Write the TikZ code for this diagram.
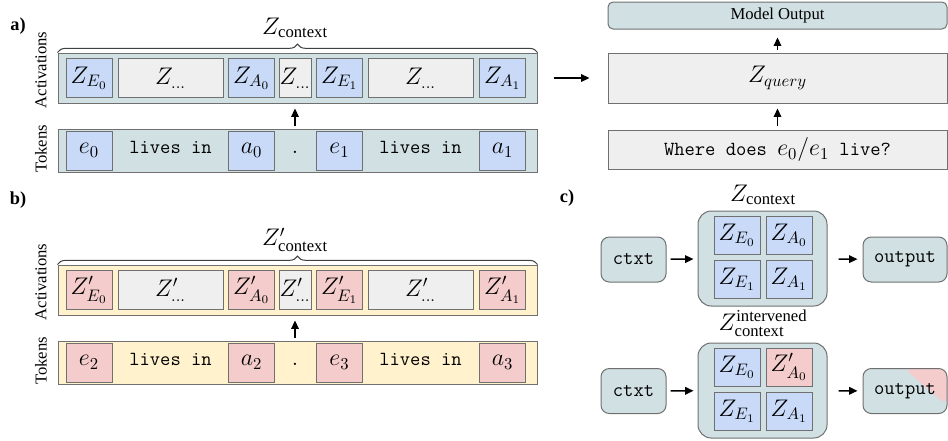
\documentclass[tikz,border=0pt]{standalone}
\usepackage{fontspec}
\setmainfont{Liberation Serif}
\usepackage{amsmath}
\usepackage{tikz}
\usetikzlibrary{positioning}
\usetikzlibrary{arrows.meta}
\usetikzlibrary{decorations.pathreplacing}
\usepackage{xcolor}

\definecolor{ctxcyan}{HTML}{D0E0E3}
\definecolor{ctxblue}{HTML}{C9DAF8}
\definecolor{ctxred}{HTML}{F4CCCC}
\definecolor{ctxyellow}{HTML}{FFF2CC}
\definecolor{ctxgray}{HTML}{EFEFEF}
\definecolor{ctxline}{HTML}{707070}

\newdimen\pxu
\pxu=0.6pt

\tikzset{
	sz/.style 2 args={minimum width=#1*\pxu, minimum height=#2*\pxu},
	ctxbar/.style={draw=ctxline, line width=0.6pt, inner sep=0pt},
	cellbox/.style={draw=ctxline, line width=0.6pt, inner sep=0pt, sz={46}{39}, font=\fontsize{14.4}{17}\selectfont},
	toktext/.style={inner sep=0pt, text height=5pt, text depth=2pt, font=\fontsize{12}{14}\selectfont\ttfamily},
	rndbox/.style={draw=ctxline, line width=0.6pt, fill=ctxcyan, rounded corners=5pt, inner sep=0pt, font=\fontsize{12}{14}\selectfont\ttfamily},
	grpbox/.style={draw=ctxline, line width=0.6pt, fill=ctxcyan, rounded corners=8pt, inner sep=0pt, sz={129}{95}},
	mathlbl/.style={inner sep=0pt, font=\fontsize{14.4}{17}\selectfont},
	arr/.style={-{Triangle[length=5pt,width=4.5pt]}, line width=0.9pt},
	brc/.style={decorate, decoration={brace, amplitude=5pt}, draw=black!75, line width=0.6pt}
}

\begin{document}
\begin{tikzpicture}[x=0.6pt, y=-0.6pt]
	\useasboundingbox (0,0) rectangle (948,440);

	% a)
	\node[font=\fontsize{11}{13}\selectfont\bfseries] (la) at (18,26) {a)};
	\node[ctxbar, fill=ctxcyan, sz={479}{50}] (aact) at (297.5,78) {};
	\node[ctxbar, fill=ctxcyan, sz={479}{43}] (atok) at (297.5,150.5) {};
	\node[rotate=90] (aactlbl) at (41,70) {Activations};
	\node[rotate=90] (atoklbl) at (41,149) {Tokens};
	\draw[brc] (aact.north west) -- (aact.north east);
	\node[mathlbl] (actx) at (295,28) {$Z_{\text{context}}$};

	\node[cellbox, fill=ctxblue] (aze0) at (89,78) {$Z_{E_0}$};
	\node[cellbox, fill=ctxgray, sz={105}{39}] (azd0) at (170.5,78) {$Z_{\dots}$};
	\node[cellbox, fill=ctxblue] (aza0) at (251.5,78) {$Z_{A_0}$};
	\node[cellbox, fill=ctxgray, sz={32}{39}] (azd1) at (295,78) {$Z_{\dots}$};
	\node[cellbox, fill=ctxblue] (aze1) at (339.5,78) {$Z_{E_1}$};
	\node[cellbox, fill=ctxgray, sz={105}{39}] (azd2) at (420.5,78) {$Z_{\dots}$};
	\node[cellbox, fill=ctxblue] (aza1) at (502.5,78) {$Z_{A_1}$};

	\node[cellbox, fill=ctxblue] (ate0) at (89,150.5) {$e_0$};
	\node[toktext] (atl0) at (170.5,150.5) {lives in};
	\node[cellbox, fill=ctxblue] (ata0) at (251.5,150.5) {$a_0$};
	\node[toktext] (atdot) at (295,150.5) {.};
	\node[cellbox, fill=ctxblue] (ate1) at (339.5,150.5) {$e_1$};
	\node[toktext] (atl1) at (420.5,150.5) {lives in};
	\node[cellbox, fill=ctxblue] (ata1) at (502.5,150.5) {$a_1$};
	\draw[arr, shorten <=1.8pt, shorten >=3pt] (atdot |- atok.north) -- (atdot |- aact.south);

	\node[ctxbar, fill=ctxgray, sz={339}{50}, font=\fontsize{14.4}{17}\selectfont] (zq) at (777.5,78) {$Z_{query}$};
	\node[ctxbar, fill=ctxcyan, rounded corners=3pt, sz={339}{27}] (mout) at (777.5,15.5) {Model Output};
	\node[ctxbar, fill=ctxgray, sz={339}{39}, font=\fontsize{12}{14}\selectfont\ttfamily] (qry) at (777.5,149.5) {Where does {\fontsize{14.4}{17}\selectfont$e_0/e_1$} live?};
	\draw[arr, shorten <=9.6pt, shorten >=10.8pt] (aact) -- (zq);
	\draw[arr, shorten <=2.4pt, shorten >=3pt] (qry) -- (zq);
	\draw[arr, shorten <=1.8pt, shorten >=4.8pt] (zq) -- (mout);

	% b)
	\node[font=\fontsize{11}{13}\selectfont\bfseries] (lb) at (18,200) {b)};
	\node[ctxbar, fill=ctxyellow, sz={479}{50}] (bact) at (297.5,290) {};
	\node[ctxbar, fill=ctxyellow, sz={479}{43}] (btok) at (297.5,362.5) {};
	\node[rotate=90] (bactlbl) at (41,282) {Activations};
	\node[rotate=90] (btoklbl) at (41,361) {Tokens};
	\draw[brc] (bact.north west) -- (bact.north east);
	\node[mathlbl] (bctx) at (295,240) {$Z'_{\text{context}}$};

	\node[cellbox, fill=ctxred] (bze0) at (89,290) {$Z'_{E_0}$};
	\node[cellbox, fill=ctxgray, sz={105}{39}] (bzd0) at (170.5,290) {$Z'_{\dots}$};
	\node[cellbox, fill=ctxred] (bza0) at (251.5,290) {$Z'_{A_0}$};
	\node[cellbox, fill=ctxgray, sz={32}{39}] (bzd1) at (295,290) {$Z'_{\dots}$};
	\node[cellbox, fill=ctxred] (bze1) at (339.5,290) {$Z'_{E_1}$};
	\node[cellbox, fill=ctxgray, sz={105}{39}] (bzd2) at (420.5,290) {$Z'_{\dots}$};
	\node[cellbox, fill=ctxred] (bza1) at (502.5,290) {$Z'_{A_1}$};

	\node[cellbox, fill=ctxred] (bte2) at (89,362.5) {$e_2$};
	\node[toktext] (btl0) at (170.5,362.5) {lives in};
	\node[cellbox, fill=ctxred] (bta2) at (251.5,362.5) {$a_2$};
	\node[toktext] (btdot) at (295,362.5) {.};
	\node[cellbox, fill=ctxred] (bte3) at (339.5,362.5) {$e_3$};
	\node[toktext] (btl1) at (420.5,362.5) {lives in};
	\node[cellbox, fill=ctxred] (bta3) at (502.5,362.5) {$a_3$};
	\draw[arr, shorten <=1.8pt, shorten >=3pt] (btdot |- btok.north) -- (btdot |- bact.south);

	% c)
	\node[font=\fontsize{11}{13}\selectfont\bfseries] (lc) at (567,198) {c)};
	\node[grpbox] (cgrp) at (762.5,258.5) {};
	\node[mathlbl] (cctx) at (763,195) {$Z_{\text{context}}$};
	\node[cellbox, fill=ctxblue, sz={46}{38}] (cze0) at (737,235) {$Z_{E_0}$};
	\node[cellbox, fill=ctxblue, sz={46}{38}] (cza0) at (789,235) {$Z_{A_0}$};
	\node[cellbox, fill=ctxblue, sz={46}{38}] (cze1) at (737,279) {$Z_{E_1}$};
	\node[cellbox, fill=ctxblue, sz={46}{38}] (cza1) at (789,279) {$Z_{A_1}$};
	\node[rndbox, sz={65}{45}] (cin) at (633.5,259.5) {ctxt};
	\node[rndbox, sz={84}{45}] (cout) at (905,259.5) {output};
	\draw[arr, shorten <=2.4pt, shorten >=2.4pt] (cin) -- (cgrp);
	\draw[arr, shorten <=6.6pt, shorten >=3pt] (cgrp) -- (cout);

	\node[grpbox] (dgrp) at (762.5,390.5) {};
	\node[mathlbl] (dctx) at (763,323) {$Z^{\text{intervened}}_{\text{context}}$};
	\node[cellbox, fill=ctxblue, sz={46}{38}] (dze0) at (737,367) {$Z_{E_0}$};
	\node[cellbox, fill=ctxred, sz={46}{38}] (dza0) at (789,367) {$Z'_{A_0}$};
	\node[cellbox, fill=ctxblue, sz={46}{38}] (dze1) at (737,411) {$Z_{E_1}$};
	\node[cellbox, fill=ctxblue, sz={46}{38}] (dza1) at (789,411) {$Z_{A_1}$};
	\node[rndbox, sz={65}{45}] (din) at (633.5,391) {ctxt};
	\node[rndbox, sz={84}{45}, path picture={
		\fill[ctxred] ([xshift=-25.8pt]path picture bounding box.north east) -- (path picture bounding box.north east) -- ([yshift=4.8pt]path picture bounding box.south east) -- cycle;
	}] (dout) at (905,391) {output};
	\draw[arr, shorten <=2.4pt, shorten >=2.4pt] (din) -- (dgrp);
	\draw[arr, shorten <=6.6pt, shorten >=3pt] (dgrp) -- (dout);
\end{tikzpicture}
\end{document}
